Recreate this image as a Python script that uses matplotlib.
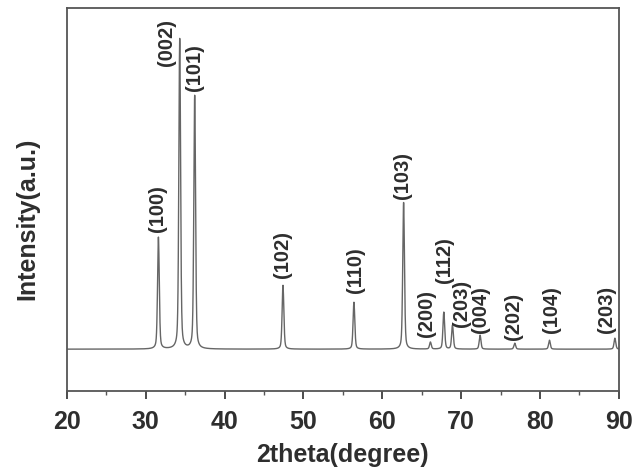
import numpy as np
import matplotlib.pyplot as plt

plt.rcParams['font.family'] = ['Liberation Sans', 'DejaVu Sans']

# peak data
hkl = ['(100)', '(002)', '(101)', '(102)', '(110)', '(103)', '(200)',
       '(112)', '(203)', '(004)', '(202)', '(104)', '(203)']
peak_pos = [31.6, 34.3, 36.2, 47.4, 56.4, 62.7, 66.1,
            67.8, 68.9, 72.4, 76.8, 81.2, 89.5]
peak_height = [112, 311, 254, 64, 47, 147, 7, 37, 24, 14, 6, 9, 11]
baseline = 42

# label anchors (layout)
label_x = [31.5, 32.6, 36.2, 47.3, 56.6, 62.6, 65.6, 67.9, 70.0, 72.5, 76.7, 81.4, 88.4]
label_y = [159, 326, 301, 113, 98, 193, 54, 108, 64, 58, 51, 58, 58]

x = np.arange(20, 90.01, 0.02)
y = np.full_like(x, baseline, dtype=float)
w = 0.13
for p, h in zip(peak_pos, peak_height):
    y += h * (0.6 * np.exp(-((x - p) / w) ** 2 * np.log(2))
              + 0.4 / (1 + ((x - p) / w) ** 2))

fig = plt.figure(figsize=(6.36, 4.74), dpi=100)
ax = fig.add_axes([0.1053, 0.175, 0.8677, 0.808])
ax.plot(x, y, color='#666666', lw=1.0)

for lab, lx, ly in zip(hkl, label_x, label_y):
    ax.text(lx, ly, lab, rotation=90, ha='center', va='bottom',
            fontsize=14.5, fontweight='bold', color='#2e2e2e')

ax.set_xlim(20, 90)
ax.set_ylim(0, 384)
ax.set_xticks(np.arange(20, 91, 10))
ax.set_xticks(np.arange(25, 90, 10), minor=True)
ax.set_yticks([])
ax.tick_params(axis='x', which='major', direction='out', length=6, width=1.2,
               labelsize=18, colors='#2e2e2e', pad=8)
ax.tick_params(axis='x', which='minor', direction='out', length=3, width=1.0,
               colors='#555555')
for lbl in ax.get_xticklabels():
    lbl.set_fontweight('bold')
for s in ax.spines.values():
    s.set_color('#555555')
    s.set_linewidth(1.3)

ax.set_xlabel('2theta(degree)', fontsize=18, fontweight='bold', color='#2e2e2e', labelpad=6)
ax.set_ylabel('Intensity(a.u.)', fontsize=18, fontweight='bold', color='#2e2e2e')
ax.yaxis.set_label_coords(-0.05, 0.45)

fig.savefig('out.png', dpi=100)
